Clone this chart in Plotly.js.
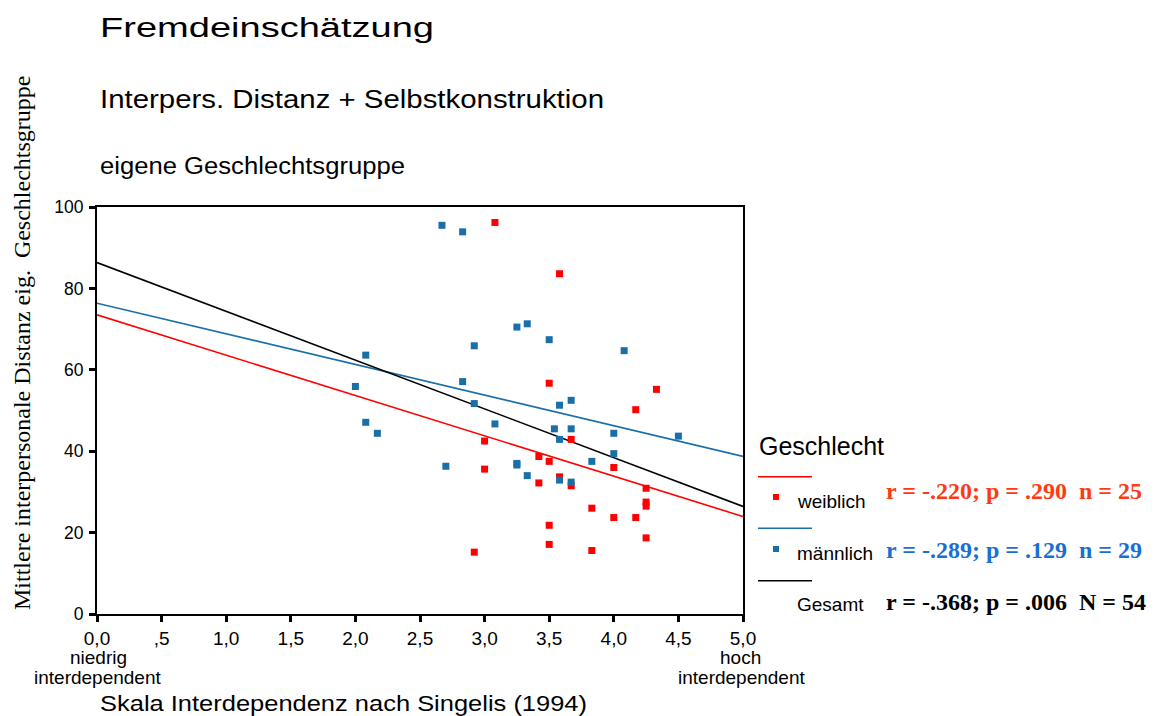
<!DOCTYPE html>
<html><head><meta charset="utf-8">
<script src="https://cdn.plot.ly/plotly-3.0.1.min.js"></script>
<style>html,body{margin:0;padding:0;background:#fff}</style>
</head><body><div id="chart" style="width:1162px;height:716px"></div>
<script>
// ---- data ----
const femaleX = [3.08, 3.58, 3.50, 4.33, 4.17, 3.00, 3.67, 3.42, 3.50, 3.00, 4.00, 3.58, 3.42, 3.67, 4.25, 4.25, 4.25, 3.83, 4.00, 4.17, 3.50, 3.50, 4.25, 2.92, 3.83];
const femaleY = [96.2, 83.6, 56.7, 55.2, 50.2, 42.5, 42.9, 38.7, 37.5, 35.6, 36.0, 33.7, 32.2, 31.5, 30.9, 27.5, 26.5, 26.0, 23.7, 23.7, 21.8, 17.1, 18.7, 15.2, 15.6];
const maleX = [2.67, 2.83, 3.25, 3.33, 3.50, 2.92, 4.08, 2.83, 2.92, 3.58, 3.67, 3.08, 3.54, 3.67, 3.58, 4.00, 4.50, 4.00, 3.83, 2.70, 3.25, 3.25, 3.33, 3.58, 3.67, 2.08, 2.00, 2.08, 2.17];
const maleY = [95.5, 93.9, 70.5, 71.3, 67.4, 65.9, 64.7, 57.1, 51.7, 51.3, 52.5, 46.7, 45.5, 45.5, 42.9, 44.4, 43.7, 39.4, 37.5, 36.3, 36.6, 37.0, 34.0, 32.9, 32.4, 63.6, 55.9, 47.1, 44.4];
const groupNames = ['weiblich', 'männlich', 'Gesamt'];
const statTexts = ['r = -.220; p = .290\u00a0\u00a0n = 25', 'r = -.289; p = .129\u00a0\u00a0n = 29', 'r = -.368; p = .006\u00a0\u00a0N = 54'];
const xTickVals = [0, 0.5, 1, 1.5, 2, 2.5, 3, 3.5, 4, 4.5, 5];
const xTickText = ['0,0', ',5', '1,0', '1,5', '2,0', '2,5', '3,0', '3,5', '4,0', '4,5', '5,0'];
const yTickVals = [0, 20, 40, 60, 80, 100];
const xRange = [0, 5];
const yRange = [0, 100];

// ---- styling ----
const RED = '#ff0000', BLUE = '#1b6fa8', BLACK = '#000000';
const textColors = ['#ff3a12', '#1a6fd2', '#000000'];
const SANS = 'Liberation Sans, Arial, sans-serif';
const SERIF = 'Liberation Serif, Times New Roman, serif';

function fit(xs, ys) {
  const n = xs.length;
  const mx = xs.reduce((a, b) => a + b, 0) / n;
  const my = ys.reduce((a, b) => a + b, 0) / n;
  let sxy = 0, sxx = 0;
  for (let i = 0; i < n; i++) { sxy += (xs[i] - mx) * (ys[i] - my); sxx += (xs[i] - mx) ** 2; }
  const b = sxy / sxx, a = my - b * mx;
  return xRange.map(x => a + b * x);
}
const allX = femaleX.concat(maleX), allY = femaleY.concat(maleY);

const traces = [
  {x: xRange, y: fit(femaleX, femaleY), mode: 'lines', line: {color: RED, width: 1.6}, hoverinfo: 'skip'},
  {x: xRange, y: fit(maleX, maleY), mode: 'lines', line: {color: BLUE, width: 1.6}, hoverinfo: 'skip'},
  {x: xRange, y: fit(allX, allY), mode: 'lines', line: {color: BLACK, width: 1.6}, hoverinfo: 'skip'},
  {x: femaleX, y: femaleY, mode: 'markers', marker: {symbol: 'square', size: 7, color: RED}},
  {x: maleX, y: maleY, mode: 'markers', marker: {symbol: 'square', size: 7, color: BLUE}}
];

// plot box in pixels: left 97, right 743, top 207, bottom 614
const L = 97, R = 743, T = 207, B = 614;
const px = v => (v - L) / (R - L);
const py = v => (B - v) / (B - T);

const ann = [];
function txt(text, x, y, size, opts) {
  ann.push(Object.assign({text: text, xref: 'paper', yref: 'paper', x: px(x), y: py(y), xanchor: 'left', yanchor: 'middle',
    align: 'left', showarrow: false, font: {family: SANS, size: size, color: '#000'}}, opts || {}));
}
txt('Fremdeinschätzung', 98, 28, 27);
txt('Interpers. Distanz + Selbstkonstruktion', 98, 99, 25);
txt('eigene Geschlechtsgruppe', 98, 166, 23);
txt('Geschlecht', 757, 446, 25);
const labelRows = [501, 553, 604];
const statRows = [491, 550, 602];
groupNames.forEach((g, i) => {
  txt(g, 795, labelRows[i], 19);
  txt(statTexts[i], 884, statRows[i], 24, {font: {family: SERIF, size: 24, color: textColors[i], weight: 'bold'}});
});
txt('niedrig', 98, 657, 19, {xanchor: 'center', align: 'center'});
txt('interdependent', 97, 677, 19, {xanchor: 'center', align: 'center'});
txt('hoch', 740, 657, 19, {xanchor: 'center', align: 'center'});
txt('interdependent', 741, 677, 19, {xanchor: 'center', align: 'center'});
txt('Skala Interdependenz nach Singelis (1994)', 98, 703, 22);
ann.push({text: 'Mittlere interpersonale Distanz eig.\u00a0 Geschlechtsgruppe', xref: 'paper', yref: 'paper', x: px(22), y: py(343),
  xanchor: 'center', yanchor: 'middle', textangle: -90, showarrow: false, font: {family: SERIF, size: 24, color: '#000'}});

const legendLineY = [476.7, 528.3, 580.7];
const lineColors = [RED, BLUE, BLACK];
const shapes = [];
legendLineY.forEach((y, i) => {
  shapes.push({type: 'line', xref: 'paper', yref: 'paper', x0: px(758), x1: px(812), y0: py(y), y1: py(y), line: {color: lineColors[i], width: 1.5}});
});
[RED, BLUE].forEach((c, i) => {
  const cy = [497, 549][i];
  shapes.push({type: 'rect', xref: 'paper', yref: 'paper', x0: px(773), x1: px(779), y0: py(cy + 3), y1: py(cy - 3), fillcolor: c, line: {width: 0}});
});

const axisCommon = {showgrid: false, zeroline: false, showline: true, linecolor: '#000', linewidth: 2, mirror: true,
  ticks: 'outside', ticklen: 6, tickwidth: 3, tickcolor: '#000', fixedrange: true};
const layout = {
  width: 1162, height: 716, showlegend: false,
  paper_bgcolor: '#fff', plot_bgcolor: '#fff',
  margin: {l: L, r: 1162 - R, t: T, b: 716 - B},
  font: {family: SANS, color: '#000'},
  xaxis: Object.assign({}, axisCommon, {range: xRange, tickmode: 'array', tickvals: xTickVals, ticktext: xTickText, tickfont: {size: 19}}),
  yaxis: Object.assign({}, axisCommon, {range: yRange, tickmode: 'array', tickvals: yTickVals, tickfont: {size: 17.5}, ticklabelstandoff: 2}),
  annotations: ann, shapes: shapes
};
const stretch = {'Fremdeinschätzung': 334, 'Interpers. Distanz + Selbstkonstruktion': 504, 'eigene Geschlechtsgruppe': 305, 'Skala Interdependenz nach Singelis (1994)': 487};
Plotly.newPlot('chart', traces, layout, {staticPlot: true, displayModeBar: false}).then(() => {
  document.querySelectorAll('text.annotation-text').forEach(t => {
    const w = stretch[t.textContent];
    if (w) { t.setAttribute('textLength', w); t.setAttribute('lengthAdjust', 'spacingAndGlyphs'); }
  });
});
</script></body></html>
